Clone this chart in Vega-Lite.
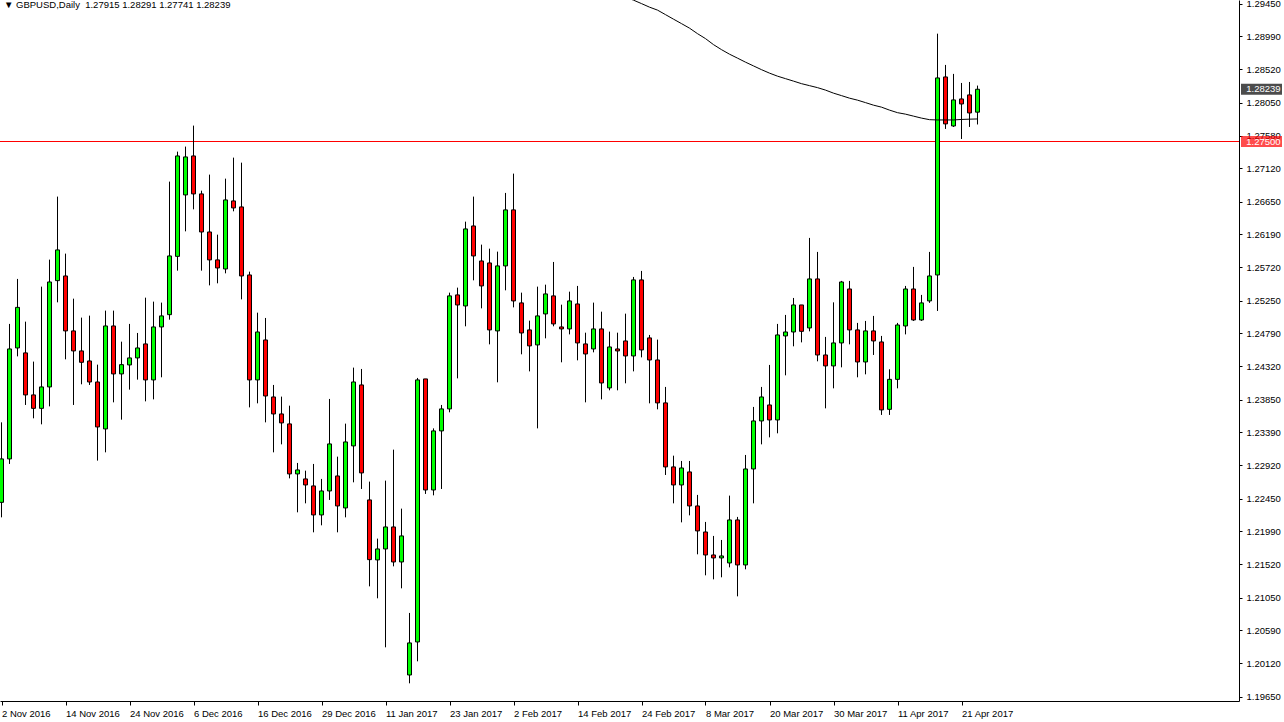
{
  "$schema": "https://vega.github.io/schema/vega-lite/v6.json",
  "width": 1239,
  "height": 701,
  "autosize": "none",
  "padding": {"left": 0, "top": 0, "right": 45, "bottom": 21},
  "background": "white",
  "title": {
    "text": "▼ GBPUSD,Daily\u00a0\u00a01.27915 1.28291 1.27741 1.28239",
    "anchor": "start",
    "frame": "group",
    "orient": "top",
    "fontSize": 9.5,
    "fontWeight": "normal",
    "font": "Liberation Sans",
    "color": "black",
    "baseline": "top",
    "offset": 0,
    "dy": 11,
    "dx": 4
  },
  "config": {
    "view": {"stroke": null},
    "axis": {
      "labelFont": "Liberation Sans",
      "labelFontSize": 9.5,
      "labelColor": "black",
      "domainColor": "black",
      "tickColor": "black",
      "grid": false,
      "titleOpacity": 0,
      "labelOverlap": false,
      "labelSeparation": 0
    }
  },
  "datasets": {
    "ohlc": [
      {"d":"2016-11-02","i":0,"o":1.22398,"h":1.23529,"l":1.22186,"c":1.23012},
      {"d":"2016-11-03","i":1,"o":1.23012,"h":1.24921,"l":1.22941,"c":1.24567},
      {"d":"2016-11-04","i":2,"o":1.24581,"h":1.25557,"l":1.24462,"c":1.25155},
      {"d":"2016-11-07","i":3,"o":1.24511,"h":1.24953,"l":1.23775,"c":1.23917},
      {"d":"2016-11-08","i":4,"o":1.23917,"h":1.24388,"l":1.23586,"c":1.23727},
      {"d":"2016-11-09","i":5,"o":1.23727,"h":1.25448,"l":1.23501,"c":1.24030},
      {"d":"2016-11-10","i":6,"o":1.24030,"h":1.25830,"l":1.23755,"c":1.25514},
      {"d":"2016-11-11","i":7,"o":1.25533,"h":1.26721,"l":1.25226,"c":1.25967},
      {"d":"2016-11-14","i":8,"o":1.25599,"h":1.25915,"l":1.24420,"c":1.24822},
      {"d":"2016-11-15","i":9,"o":1.24822,"h":1.25278,"l":1.23775,"c":1.24539},
      {"d":"2016-11-16","i":10,"o":1.24539,"h":1.25010,"l":1.24067,"c":1.24378},
      {"d":"2016-11-17","i":11,"o":1.24397,"h":1.25038,"l":1.24058,"c":1.24100},
      {"d":"2016-11-18","i":12,"o":1.24100,"h":1.24345,"l":1.22988,"c":1.23464},
      {"d":"2016-11-21","i":13,"o":1.23436,"h":1.25109,"l":1.23105,"c":1.24892},
      {"d":"2016-11-22","i":14,"o":1.24892,"h":1.25109,"l":1.23812,"c":1.24214},
      {"d":"2016-11-23","i":15,"o":1.24214,"h":1.24670,"l":1.23567,"c":1.24345},
      {"d":"2016-11-24","i":16,"o":1.24341,"h":1.24921,"l":1.23992,"c":1.24440},
      {"d":"2016-11-25","i":17,"o":1.24440,"h":1.24793,"l":1.24133,"c":1.24581},
      {"d":"2016-11-28","i":18,"o":1.24638,"h":1.25292,"l":1.23826,"c":1.24129},
      {"d":"2016-11-29","i":19,"o":1.24129,"h":1.25236,"l":1.23854,"c":1.24878},
      {"d":"2016-11-30","i":20,"o":1.24878,"h":1.25222,"l":1.24166,"c":1.25034},
      {"d":"2016-12-01","i":21,"o":1.25052,"h":1.26933,"l":1.24981,"c":1.25882},
      {"d":"2016-12-02","i":22,"o":1.25876,"h":1.27357,"l":1.25674,"c":1.27296},
      {"d":"2016-12-05","i":23,"o":1.26745,"h":1.27428,"l":1.26230,"c":1.27282},
      {"d":"2016-12-06","i":24,"o":1.27296,"h":1.27725,"l":1.26541,"c":1.26759},
      {"d":"2016-12-07","i":25,"o":1.26759,"h":1.26805,"l":1.25674,"c":1.26221},
      {"d":"2016-12-08","i":26,"o":1.26221,"h":1.27032,"l":1.25466,"c":1.25826},
      {"d":"2016-12-09","i":27,"o":1.25826,"h":1.26183,"l":1.25495,"c":1.25712},
      {"d":"2016-12-12","i":28,"o":1.25698,"h":1.26975,"l":1.25636,"c":1.26674},
      {"d":"2016-12-13","i":29,"o":1.26660,"h":1.27272,"l":1.26513,"c":1.26561},
      {"d":"2016-12-14","i":30,"o":1.26575,"h":1.27201,"l":1.25268,"c":1.25599},
      {"d":"2016-12-15","i":31,"o":1.25613,"h":1.25660,"l":1.23741,"c":1.24129},
      {"d":"2016-12-16","i":32,"o":1.24129,"h":1.25080,"l":1.23798,"c":1.24807},
      {"d":"2016-12-19","i":33,"o":1.24694,"h":1.25005,"l":1.23529,"c":1.23902},
      {"d":"2016-12-20","i":34,"o":1.23888,"h":1.24058,"l":1.23105,"c":1.23648},
      {"d":"2016-12-21","i":35,"o":1.23648,"h":1.23893,"l":1.23218,"c":1.23521},
      {"d":"2016-12-22","i":36,"o":1.23507,"h":1.23765,"l":1.22737,"c":1.22800},
      {"d":"2016-12-23","i":37,"o":1.22800,"h":1.22955,"l":1.22257,"c":1.22856},
      {"d":"2016-12-27","i":38,"o":1.22729,"h":1.22846,"l":1.22384,"c":1.22644},
      {"d":"2016-12-28","i":39,"o":1.22630,"h":1.22941,"l":1.21974,"c":1.22220},
      {"d":"2016-12-29","i":40,"o":1.22220,"h":1.22729,"l":1.22073,"c":1.22559},
      {"d":"2016-12-30","i":41,"o":1.22559,"h":1.23860,"l":1.22432,"c":1.23224},
      {"d":"2017-01-03","i":42,"o":1.22771,"h":1.23044,"l":1.21974,"c":1.22347},
      {"d":"2017-01-04","i":43,"o":1.22319,"h":1.23511,"l":1.22186,"c":1.23252},
      {"d":"2017-01-05","i":44,"o":1.23196,"h":1.24303,"l":1.22681,"c":1.24100},
      {"d":"2017-01-06","i":45,"o":1.24058,"h":1.24284,"l":1.22587,"c":1.22814},
      {"d":"2017-01-09","i":46,"o":1.22432,"h":1.22691,"l":1.21210,"c":1.21588},
      {"d":"2017-01-10","i":47,"o":1.21584,"h":1.21885,"l":1.21041,"c":1.21739},
      {"d":"2017-01-11","i":48,"o":1.21739,"h":1.22705,"l":1.20348,"c":1.22050},
      {"d":"2017-01-12","i":49,"o":1.22050,"h":1.23143,"l":1.21493,"c":1.21555},
      {"d":"2017-01-13","i":50,"o":1.21555,"h":1.22309,"l":1.21182,"c":1.21923},
      {"d":"2017-01-16","i":51,"o":1.19957,"h":1.20834,"l":1.19839,"c":1.20410},
      {"d":"2017-01-17","i":52,"o":1.20424,"h":1.24157,"l":1.20150,"c":1.24129},
      {"d":"2017-01-18","i":53,"o":1.24143,"h":1.24143,"l":1.22517,"c":1.22573},
      {"d":"2017-01-19","i":54,"o":1.22573,"h":1.23444,"l":1.22497,"c":1.23408},
      {"d":"2017-01-20","i":55,"o":1.23408,"h":1.23775,"l":1.22587,"c":1.23719},
      {"d":"2017-01-23","i":56,"o":1.23719,"h":1.25363,"l":1.23671,"c":1.25317},
      {"d":"2017-01-24","i":57,"o":1.25331,"h":1.25434,"l":1.24151,"c":1.25189},
      {"d":"2017-01-25","i":58,"o":1.25175,"h":1.26367,"l":1.24887,"c":1.26264},
      {"d":"2017-01-26","i":59,"o":1.26306,"h":1.26721,"l":1.25537,"c":1.25882},
      {"d":"2017-01-27","i":60,"o":1.25811,"h":1.26042,"l":1.25141,"c":1.25458},
      {"d":"2017-01-30","i":61,"o":1.25783,"h":1.25985,"l":1.24632,"c":1.24836},
      {"d":"2017-01-31","i":62,"o":1.24822,"h":1.25943,"l":1.24095,"c":1.25741},
      {"d":"2017-02-01","i":63,"o":1.25741,"h":1.26773,"l":1.25396,"c":1.26533},
      {"d":"2017-02-02","i":64,"o":1.26533,"h":1.27046,"l":1.25155,"c":1.25246},
      {"d":"2017-02-03","i":65,"o":1.25218,"h":1.25363,"l":1.24491,"c":1.24793},
      {"d":"2017-02-06","i":66,"o":1.24836,"h":1.24967,"l":1.24250,"c":1.24610},
      {"d":"2017-02-07","i":67,"o":1.24624,"h":1.25448,"l":1.23444,"c":1.25034},
      {"d":"2017-02-08","i":68,"o":1.25062,"h":1.25476,"l":1.24717,"c":1.25345},
      {"d":"2017-02-09","i":69,"o":1.25317,"h":1.25797,"l":1.24887,"c":1.24921},
      {"d":"2017-02-10","i":70,"o":1.24878,"h":1.25193,"l":1.24378,"c":1.24850},
      {"d":"2017-02-13","i":71,"o":1.24850,"h":1.25377,"l":1.24773,"c":1.25246},
      {"d":"2017-02-14","i":72,"o":1.25203,"h":1.25458,"l":1.24406,"c":1.24652},
      {"d":"2017-02-15","i":73,"o":1.24638,"h":1.24797,"l":1.23812,"c":1.24496},
      {"d":"2017-02-16","i":74,"o":1.24567,"h":1.25222,"l":1.24519,"c":1.24850},
      {"d":"2017-02-17","i":75,"o":1.24850,"h":1.25094,"l":1.23854,"c":1.24086},
      {"d":"2017-02-20","i":76,"o":1.24016,"h":1.24812,"l":1.23982,"c":1.24595},
      {"d":"2017-02-21","i":77,"o":1.24567,"h":1.24797,"l":1.23982,"c":1.24539},
      {"d":"2017-02-22","i":78,"o":1.24680,"h":1.25066,"l":1.24081,"c":1.24468},
      {"d":"2017-02-23","i":79,"o":1.24468,"h":1.25585,"l":1.24250,"c":1.25543},
      {"d":"2017-02-24","i":80,"o":1.25543,"h":1.25670,"l":1.24448,"c":1.24553},
      {"d":"2017-02-27","i":81,"o":1.24723,"h":1.24765,"l":1.23798,"c":1.24411},
      {"d":"2017-02-28","i":82,"o":1.24411,"h":1.24699,"l":1.23713,"c":1.23804},
      {"d":"2017-03-01","i":83,"o":1.23804,"h":1.24030,"l":1.22785,"c":1.22899},
      {"d":"2017-03-02","i":84,"o":1.22899,"h":1.23058,"l":1.22384,"c":1.22644},
      {"d":"2017-03-03","i":85,"o":1.22644,"h":1.22983,"l":1.22115,"c":1.22884},
      {"d":"2017-03-06","i":86,"o":1.22828,"h":1.22983,"l":1.22214,"c":1.22347},
      {"d":"2017-03-07","i":87,"o":1.22347,"h":1.22503,"l":1.21663,"c":1.21994},
      {"d":"2017-03-08","i":88,"o":1.21979,"h":1.22121,"l":1.21366,"c":1.21654},
      {"d":"2017-03-09","i":89,"o":1.21654,"h":1.21923,"l":1.21309,"c":1.21612},
      {"d":"2017-03-10","i":90,"o":1.21612,"h":1.21866,"l":1.21338,"c":1.21640},
      {"d":"2017-03-13","i":91,"o":1.21541,"h":1.22493,"l":1.21479,"c":1.22149},
      {"d":"2017-03-14","i":92,"o":1.22149,"h":1.22192,"l":1.21069,"c":1.21513},
      {"d":"2017-03-15","i":93,"o":1.21513,"h":1.23068,"l":1.21451,"c":1.22870},
      {"d":"2017-03-16","i":94,"o":1.22870,"h":1.23747,"l":1.22384,"c":1.23549},
      {"d":"2017-03-17","i":95,"o":1.23549,"h":1.24030,"l":1.23218,"c":1.23888},
      {"d":"2017-03-20","i":96,"o":1.23775,"h":1.24341,"l":1.23317,"c":1.23563},
      {"d":"2017-03-21","i":97,"o":1.23563,"h":1.24921,"l":1.23374,"c":1.24765},
      {"d":"2017-03-22","i":98,"o":1.24751,"h":1.25048,"l":1.24194,"c":1.24807},
      {"d":"2017-03-23","i":99,"o":1.24807,"h":1.25288,"l":1.24604,"c":1.25189},
      {"d":"2017-03-24","i":100,"o":1.25189,"h":1.25189,"l":1.24660,"c":1.24816},
      {"d":"2017-03-27","i":101,"o":1.24864,"h":1.26137,"l":1.24816,"c":1.25557},
      {"d":"2017-03-28","i":102,"o":1.25557,"h":1.25939,"l":1.24392,"c":1.24482},
      {"d":"2017-03-29","i":103,"o":1.24482,"h":1.24737,"l":1.23727,"c":1.24327},
      {"d":"2017-03-30","i":104,"o":1.24327,"h":1.25226,"l":1.24010,"c":1.24652},
      {"d":"2017-03-31","i":105,"o":1.24652,"h":1.25529,"l":1.24307,"c":1.25514},
      {"d":"2017-04-03","i":106,"o":1.25415,"h":1.25529,"l":1.24632,"c":1.24836},
      {"d":"2017-04-04","i":107,"o":1.24836,"h":1.24935,"l":1.24166,"c":1.24383},
      {"d":"2017-04-05","i":108,"o":1.24383,"h":1.24963,"l":1.24208,"c":1.24822},
      {"d":"2017-04-06","i":109,"o":1.24822,"h":1.25034,"l":1.24482,"c":1.24680},
      {"d":"2017-04-07","i":110,"o":1.24666,"h":1.24751,"l":1.23634,"c":1.23705},
      {"d":"2017-04-10","i":111,"o":1.23713,"h":1.24279,"l":1.23634,"c":1.24137},
      {"d":"2017-04-11","i":112,"o":1.24137,"h":1.24935,"l":1.24010,"c":1.24906},
      {"d":"2017-04-12","i":113,"o":1.24892,"h":1.25458,"l":1.24773,"c":1.25415},
      {"d":"2017-04-13","i":114,"o":1.25415,"h":1.25727,"l":1.24963,"c":1.24977},
      {"d":"2017-04-14","i":115,"o":1.24977,"h":1.25331,"l":1.24963,"c":1.25218},
      {"d":"2017-04-17","i":116,"o":1.25246,"h":1.25939,"l":1.25218,"c":1.25599},
      {"d":"2017-04-18","i":117,"o":1.25613,"h":1.29025,"l":1.25104,"c":1.28399},
      {"d":"2017-04-19","i":118,"o":1.28413,"h":1.28583,"l":1.27678,"c":1.27749},
      {"d":"2017-04-20","i":119,"o":1.27720,"h":1.28456,"l":1.27706,"c":1.28088},
      {"d":"2017-04-21","i":120,"o":1.28102,"h":1.28328,"l":1.27536,"c":1.28031},
      {"d":"2017-04-24","i":121,"o":1.28159,"h":1.28342,"l":1.27706,"c":1.27904},
      {"d":"2017-04-25","i":122,"o":1.27915,"h":1.28291,"l":1.27741,"c":1.28239}
    ],
    "ma": [
      {"i":78,"ma":1.29541},{"i":79,"ma":1.29499},{"i":80,"ma":1.29450},{"i":81,"ma":1.29400},
      {"i":82,"ma":1.29358},{"i":83,"ma":1.29294},{"i":84,"ma":1.29230},{"i":85,"ma":1.29167},
      {"i":86,"ma":1.29103},{"i":87,"ma":1.29025},{"i":88,"ma":1.28955},{"i":89,"ma":1.28870},
      {"i":90,"ma":1.28799},{"i":91,"ma":1.28735},{"i":92,"ma":1.28679},{"i":93,"ma":1.28622},
      {"i":94,"ma":1.28569},{"i":95,"ma":1.28516},{"i":96,"ma":1.28467},{"i":97,"ma":1.28424},
      {"i":98,"ma":1.28389},{"i":99,"ma":1.28354},{"i":100,"ma":1.28318},{"i":101,"ma":1.28290},
      {"i":102,"ma":1.28262},{"i":103,"ma":1.28227},{"i":104,"ma":1.28184},{"i":105,"ma":1.28149},
      {"i":106,"ma":1.28113},{"i":107,"ma":1.28085},{"i":108,"ma":1.28050},{"i":109,"ma":1.28014},
      {"i":110,"ma":1.27986},{"i":111,"ma":1.27944},{"i":112,"ma":1.27908},{"i":113,"ma":1.27887},
      {"i":114,"ma":1.27859},{"i":115,"ma":1.27831},{"i":116,"ma":1.27809},{"i":117,"ma":1.27805},
      {"i":118,"ma":1.27805},{"i":119,"ma":1.27805},{"i":120,"ma":1.27812},{"i":121,"ma":1.27816},
      {"i":122,"ma":1.27819}
    ],
    "levels": [
      {"p":1.28239,"bg":"#000000"},
      {"p":1.27500,"bg":"#ff0000"}
    ]
  },
  "layer": [
    {
      "data": {"values": [{}]},
      "mark": {"type": "rule", "color": "#ff0000", "strokeWidth": 1},
      "encoding": {
        "y": {"datum": 1.275, "type": "quantitative", "scale": {"domain": [1.19589, 1.29501], "nice": false, "zero": false, "padding": 0}}
      }
    },
    {
      "data": {"name": "ohlc"},
      "mark": {"type": "rule", "color": "black", "strokeWidth": 1},
      "encoding": {
        "x": {
          "field": "i", "type": "quantitative",
          "scale": {"domain": [-0.1875, 154.6875], "nice": false, "zero": false, "padding": 0},
          "axis": {
            "orient": "bottom", "title": null, "tickCount": 40,
            "values": [0, 8, 16, 24, 32, 40, 48, 56, 64, 72, 80, 88, 96, 104, 112, 120],
            "labelExpr": "['2 Nov 2016','14 Nov 2016','24 Nov 2016','6 Dec 2016','16 Dec 2016','29 Dec 2016','11 Jan 2017','23 Jan 2017','2 Feb 2017','14 Feb 2017','24 Feb 2017','8 Mar 2017','20 Mar 2017','30 Mar 2017','11 Apr 2017','21 Apr 2017'][round(datum.value / 8)]",
            "labelAlign": "left", "labelBaseline": "top", "labelPadding": 3, "labelDx": 1,
            "tickSize": 4, "labelOverlap": false, "labelBound": false, "labelFlush": false
          }
        },
        "y": {
          "field": "l", "type": "quantitative",
          "scale": {"domain": [1.19589, 1.29501], "nice": false, "zero": false, "padding": 0},
          "axis": {
            "orient": "right", "title": null, "tickCount": 40,
            "values": [1.2945, 1.2899, 1.2852, 1.2805, 1.2758, 1.2712, 1.2665, 1.2619, 1.2572, 1.2525, 1.2479, 1.2432, 1.2385, 1.2339, 1.2292, 1.2245, 1.2199, 1.2152, 1.2105, 1.2059, 1.2012, 1.1965],
            "format": ".5f", "tickSize": 3, "labelPadding": 4,
            "labelOverlap": false, "labelBound": false, "labelFlush": false, "labelSeparation": 0
          }
        },
        "y2": {"field": "h"}
      }
    },
    {
      "data": {"name": "ohlc"},
      "mark": {"type": "bar", "size": 4, "stroke": "black", "strokeWidth": 1},
      "encoding": {
        "x": {"field": "i", "type": "quantitative", "scale": {"domain": [-0.1875, 154.6875], "nice": false, "zero": false, "padding": 0}},
        "y": {"field": "o", "type": "quantitative", "scale": {"domain": [1.19589, 1.29501], "nice": false, "zero": false, "padding": 0}},
        "y2": {"field": "c"},
        "fill": {"condition": {"test": "datum.c >= datum.o", "value": "#00ff00"}, "value": "#ff0000"}
      }
    },
    {
      "data": {"name": "ma"},
      "mark": {"type": "line", "color": "black", "strokeWidth": 1, "clip": true},
      "encoding": {
        "x": {"field": "i", "type": "quantitative", "scale": {"domain": [-0.1875, 154.6875], "nice": false, "zero": false, "padding": 0}},
        "y": {"field": "ma", "type": "quantitative", "scale": {"domain": [1.19589, 1.29501], "nice": false, "zero": false, "padding": 0}}
      }
    },
    {
      "data": {"name": "levels"},
      "mark": {"type": "tick", "orient": "horizontal", "thickness": 11},
      "encoding": {
        "x": {"datum": 157.5, "type": "quantitative", "scale": {"domain": [-0.1875, 154.6875], "nice": false, "zero": false, "padding": 0}},
        "y": {"field": "p", "type": "quantitative", "scale": {"domain": [1.19589, 1.29501], "nice": false, "zero": false, "padding": 0}},
        "size": {"value": 41},
        "color": {"field": "bg", "type": "nominal", "scale": null, "legend": null}
      }
    },
    {
      "data": {"name": "levels"},
      "mark": {"type": "text", "align": "left", "baseline": "middle", "font": "Liberation Sans", "fontSize": 9.5, "color": "white"},
      "encoding": {
        "x": {"datum": 155.6, "type": "quantitative", "scale": {"domain": [-0.1875, 154.6875], "nice": false, "zero": false, "padding": 0}},
        "y": {"field": "p", "type": "quantitative", "scale": {"domain": [1.19589, 1.29501], "nice": false, "zero": false, "padding": 0}},
        "text": {"field": "p", "type": "quantitative", "format": ".5f"}
      }
    }
  ]
}
